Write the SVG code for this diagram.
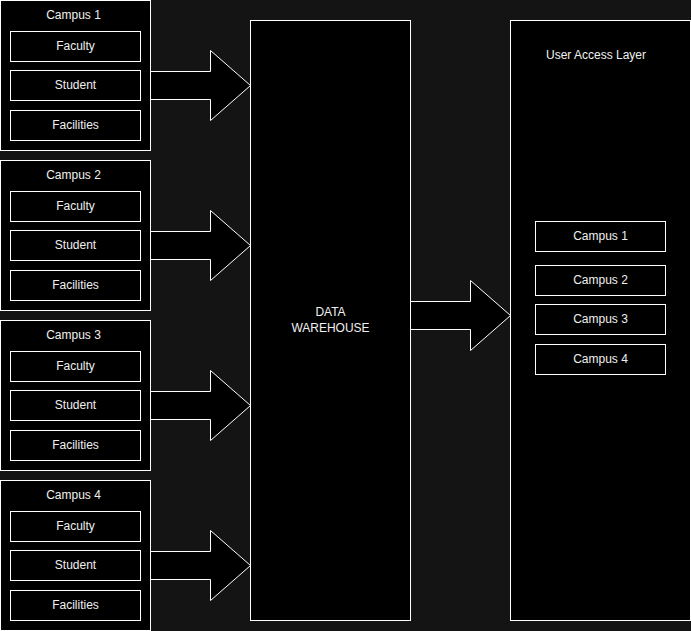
<svg xmlns="http://www.w3.org/2000/svg" width="691" height="631" viewBox="0 0 691 631">
  <defs>
    <style>
      .box { fill: #000000; stroke: #ffffff; stroke-width: 1; }
      .arrow { fill: #000000; stroke: #ffffff; stroke-width: 1; stroke-linejoin: miter; }
      .label { font-family: "Liberation Sans", Arial, sans-serif; font-size: 12px; fill: #f0f0f0; text-anchor: middle; }
    </style>
    <!-- campus source block: outer box with three sub-tables -->
    <g id="campusBlock-template">
      <rect class="box" x="0.5" y="0.5" width="150" height="150"/>
      <rect class="box" x="10.5" y="31.5" width="130" height="30"/>
      <text class="label" x="75.5" y="49.5">Faculty</text>
      <rect class="box" x="10.5" y="70.5" width="130" height="30"/>
      <text class="label" x="75.5" y="88.5">Student</text>
      <rect class="box" x="10.5" y="110.5" width="130" height="30"/>
      <text class="label" x="75.5" y="128.5">Facilities</text>
    </g>
    <!-- block arrow pointing right, tip at origin-relative (100, 0) -->
    <path id="blockArrow" class="arrow" d="M0,-14 L60,-14 L60,-35 L100,0 L60,35 L60,14 L0,14"/>
  </defs>

  <rect x="0" y="0" width="691" height="631" fill="#141414"/>

  <g id="connectors">
    <use href="#blockArrow" x="150.5" y="85.5"/>
    <use href="#blockArrow" x="150.5" y="245.5"/>
    <use href="#blockArrow" x="150.5" y="405.5"/>
    <use href="#blockArrow" x="150.5" y="565.5"/>
    <use href="#blockArrow" x="410.5" y="315.5"/>
  </g>

  <g id="campus1">
    <use href="#campusBlock-template" x="0" y="0"/>
    <text class="label" x="73.5" y="18.5">Campus 1</text>
  </g>
  <g id="campus2">
    <use href="#campusBlock-template" x="0" y="160"/>
    <text class="label" x="73.5" y="178.5">Campus 2</text>
  </g>
  <g id="campus3">
    <use href="#campusBlock-template" x="0" y="320"/>
    <text class="label" x="73.5" y="338.5">Campus 3</text>
  </g>
  <g id="campus4">
    <use href="#campusBlock-template" x="0" y="480"/>
    <text class="label" x="73.5" y="498.5">Campus 4</text>
  </g>

  <g id="dataWarehouse">
    <rect class="box" x="250.5" y="20.5" width="160" height="600"/>
    <text class="label" x="330.5" y="316">DATA</text>
    <text class="label" x="330.5" y="331.5">WAREHOUSE</text>
  </g>

  <g id="userAccessLayer">
    <rect class="box" x="510.5" y="20.5" width="180" height="600"/>
    <text class="label" x="596" y="59">User Access Layer</text>
  </g>

  <g id="uac-campus1">
    <rect class="box" x="535.5" y="221.5" width="130" height="30"/>
    <text class="label" x="600.5" y="239.5">Campus 1</text>
  </g>
  <g id="uac-campus2">
    <rect class="box" x="535.5" y="265.5" width="130" height="30"/>
    <text class="label" x="600.5" y="283.5">Campus 2</text>
  </g>
  <g id="uac-campus3">
    <rect class="box" x="535.5" y="304.5" width="130" height="30"/>
    <text class="label" x="600.5" y="322.5">Campus 3</text>
  </g>
  <g id="uac-campus4">
    <rect class="box" x="535.5" y="344.5" width="130" height="30"/>
    <text class="label" x="600.5" y="362.5">Campus 4</text>
  </g>
</svg>
